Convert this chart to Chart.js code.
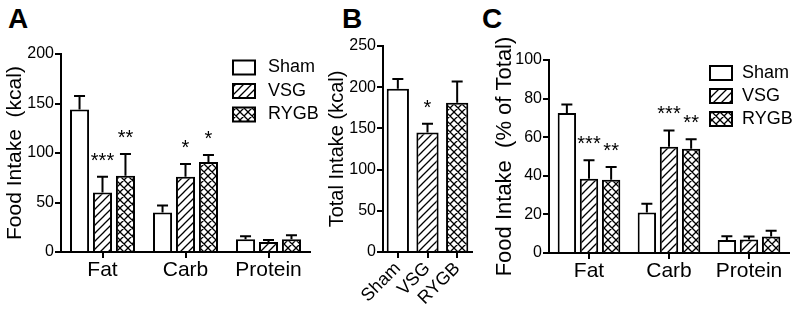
<!DOCTYPE html>
<html>
<head>
<meta charset="utf-8">
<script src="https://cdn.jsdelivr.net/npm/chart.js@4.4.1/dist/chart.umd.min.js"></script>
<style>
body{margin:0;background:#fff;width:800px;height:314px;overflow:hidden;position:relative;font-family:"Liberation Sans",Arial,sans-serif}
.box{position:absolute;top:0;height:314px}
.lt{position:absolute;top:5px;font-weight:bold;font-size:28px;line-height:28px;color:#000}
</style>
</head>
<body>
<div class="lt" style="left:8px">A</div>
<div class="lt" style="left:342px">B</div>
<div class="lt" style="left:482px">C</div>
<div class="box" style="left:0;width:320px"><canvas id="cA"></canvas></div>
<div class="box" style="left:318px;width:162px"><canvas id="cB"></canvas></div>
<div class="box" style="left:480px;width:320px"><canvas id="cC"></canvas></div>
<script>
// groups and categories
const groups=["Sham","VSG","RYGB"];
const macros=["Fat","Carb","Protein"];

// A: food intake (kcal), mean and SEM
const kcalSham=[144,40,13], kcalShamSem=[13.5,7,3];
const kcalVSG=[60,76,10],   kcalVSGSem=[16,13,2];
const kcalRYGB=[77,91,13],  kcalRYGBSem=[22,7,4];
const kcalVSGSig=["***","*",""], kcalRYGBSig=["**","*",""];

// B: total intake (kcal)
const totalMean=[198,145,181], totalSem=[12,10.5,26];
const totalSig=["","*",""];

// C: food intake (% of total)
const pctSham=[72.5,21,6.7], pctShamSem=[4.5,4.5,2];
const pctVSG=[38.5,55,7],    pctVSGSem=[9.5,8.5,1.5];
const pctRYGB=[38,54,8.5],   pctRYGBSem=[6.5,5,3];
const pctVSGSig=["***","***",""], pctRYGBSig=["**","**",""];

const FONT='"Liberation Sans", Arial, sans-serif';

function hatch(cross){
  const s=8,c=document.createElement('canvas');c.width=s;c.height=s;
  const g=c.getContext('2d');
  g.fillStyle='#fff';g.fillRect(0,0,s,s);
  g.strokeStyle='#000';g.lineWidth=1.3;
  g.beginPath();
  g.moveTo(-1,s+1);g.lineTo(s+1,-1);
  g.moveTo(-1,1);g.lineTo(1,-1);
  g.moveTo(s-1,s+1);g.lineTo(s+1,s-1);
  if(cross){
    g.moveTo(-1,-1);g.lineTo(s+1,s+1);
    g.moveTo(s-1,-1);g.lineTo(s+1,1);
    g.moveTo(-1,s-1);g.lineTo(1,s+1);
  }
  g.stroke();
  return g.createPattern(c,'repeat');
}
const fills=['#fff',hatch(false),hatch(true)];

const errPlugin={id:'errs',afterDatasetsDraw(chart){
  const ctx=chart.ctx,y=chart.scales.y;
  ctx.save();
  ctx.strokeStyle='#000';ctx.lineWidth=2;ctx.fillStyle='#000';
  ctx.font='20px '+FONT;ctx.textAlign='center';ctx.textBaseline='alphabetic';
  chart.data.datasets.forEach((ds,i)=>{
    chart.getDatasetMeta(i).data.forEach((b,j)=>{
      const top=y.getPixelForValue(ds.data[j]+ds.sem[j]);
      ctx.beginPath();
      ctx.moveTo(b.x,b.y);ctx.lineTo(b.x,top);
      ctx.moveTo(b.x-5.5,top);ctx.lineTo(b.x+5.5,top);
      ctx.stroke();
      if(ds.sig&&ds.sig[j]) ctx.fillText(ds.sig[j],b.x,top-10);
    });
  });
  ctx.restore();
}};

const legPlugin={id:'leg',afterDraw(chart,args,o){
  if(!o||o.x===undefined) return;
  const ctx=chart.ctx;
  ctx.save();
  ctx.font='18px '+FONT;ctx.textBaseline='middle';ctx.textAlign='left';
  chart.data.datasets.forEach((ds,i)=>{
    const cy=o.y+i*o.dy;
    ctx.fillStyle=ds.backgroundColor;
    ctx.fillRect(o.x,cy-7,22,14);
    ctx.lineWidth=2;ctx.strokeStyle='#000';
    ctx.strokeRect(o.x,cy-7,22,14);
    ctx.fillStyle='#000';
    ctx.fillText(ds.label,o.tx,cy);
  });
  ctx.restore();
}};

function makeChart(id,cfg){
  return new Chart(document.getElementById(id),{
    type:'bar',
    data:{labels:cfg.labels,datasets:cfg.datasets},
    plugins:[errPlugin,legPlugin],
    options:{
      responsive:true,maintainAspectRatio:false,animation:false,events:[],
      layout:{padding:{left:0,top:cfg.top,right:cfg.right,bottom:0}},
      plugins:{legend:{display:false},tooltip:{enabled:false},leg:cfg.legend||{}},
      scales:{
        x:{
          grid:{display:true,drawOnChartArea:false,offset:false,tickLength:6,color:'#000',lineWidth:2},
          border:{display:true,color:'#000',width:2},
          ticks:{color:'#000',font:{family:FONT,size:cfg.xFont},padding:0,
                 maxRotation:cfg.rot,minRotation:cfg.rot,autoSkip:false},
          afterFit:s=>{s.height=cfg.xh}
        },
        y:{
          min:0,max:cfg.max,
          grid:{display:true,drawOnChartArea:false,tickLength:6,color:'#000',lineWidth:2},
          border:{display:true,color:'#000',width:2},
          ticks:{stepSize:cfg.step,color:'#000',font:{family:FONT,size:16},padding:1},
          title:{display:true,text:cfg.title,color:'#000',font:{family:FONT,size:cfg.tFont},padding:{top:cfg.tPad,bottom:0}},
          afterFit:s=>{s.width=cfg.yw}
        }
      }
    }
  });
}

function groupSets(means,sems,sigs){
  return groups.map((g,i)=>({
    label:g,data:means[i],sem:sems[i],sig:sigs[i],
    backgroundColor:fills[i],borderColor:'#000',borderWidth:2,
    barPercentage:0.83,categoryPercentage:0.83
  }));
}

makeChart('cA',{
  labels:macros,
  datasets:groupSets([kcalSham,kcalVSG,kcalRYGB],[kcalShamSem,kcalVSGSem,kcalRYGBSem],[null,kcalVSGSig,kcalRYGBSig]),
  top:54,right:10,xh:62,yw:61,max:200,step:50,xFont:21,rot:0,
  title:'Food Intake  (kcal)',tFont:21,tPad:3,
  legend:{x:233,y:67.5,dy:23.5,tx:268}
});

makeChart('cB',{
  labels:groups,
  datasets:[{
    label:'Total',data:totalMean,sem:totalSem,sig:totalSig,
    backgroundColor:fills,borderColor:'#000',borderWidth:2,
    barPercentage:0.75,categoryPercentage:1
  }],
  top:46,right:8,xh:62,yw:65,max:250,step:50,xFont:18,rot:45,
  title:'Total Intake (kcal)',tFont:20,tPad:7
});

makeChart('cC',{
  labels:macros,
  datasets:groupSets([pctSham,pctVSG,pctRYGB],[pctShamSem,pctVSGSem,pctRYGBSem],[null,pctVSGSig,pctRYGBSig]),
  top:60,right:11,xh:61,yw:69,max:100,step:20,xFont:21,rot:0,
  title:'Food Intake  (% of Total)',tFont:22,tPad:12,
  legend:{x:230,y:73,dy:23,tx:262}
});
</script>
</body>
</html>
